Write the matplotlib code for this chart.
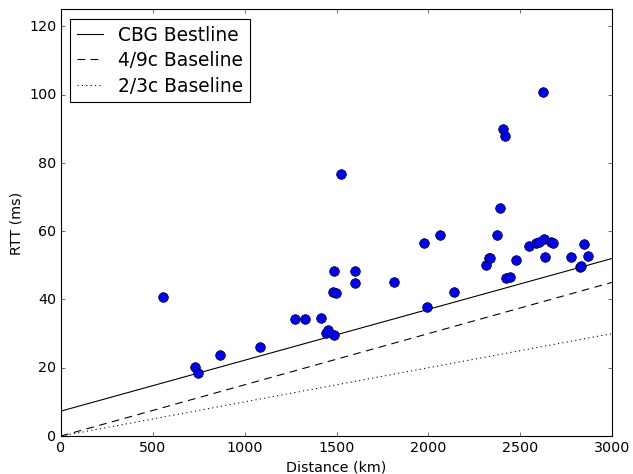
import numpy as np
import matplotlib
matplotlib.use('Agg')
import matplotlib.pyplot as plt

plt.style.use('classic')

# measured points (distance in km, RTT in ms)
distance = [555, 730, 747, 866, 1085, 1274, 1328, 1416, 1444, 1451,
            1489, 1489, 1483, 1495, 1527, 1602, 1602, 1813, 1976, 1991,
            2061, 2138, 2312, 2331, 2336, 2372, 2390, 2408, 2416, 2421,
            2445, 2477, 2548, 2586, 2604, 2624, 2631, 2635, 2666, 2677,
            2775, 2827, 2831, 2846, 2868]
rtt = [40.7, 20.3, 18.4, 23.6, 26.0, 34.3, 34.2, 34.6, 30.1, 31.1,
       29.5, 48.3, 42.1, 41.8, 76.7, 48.3, 44.7, 45.0, 56.4, 37.8,
       59.0, 42.3, 50.0, 52.1, 52.0, 58.9, 66.7, 89.9, 87.9, 46.4,
       46.7, 51.6, 55.8, 56.6, 56.9, 100.8, 57.7, 52.5, 56.7, 56.6,
       52.5, 49.4, 49.8, 56.2, 52.6]

# line end points
line_x = [0, 3000]
cbg_bestline = [7.3, 52.0]
baseline_49c = [0, 45.0]
baseline_23c = [0, 30.0]

fig = plt.figure(figsize=(8, 6), dpi=79.125, facecolor='white')
ax = fig.add_axes([61/633., 1 - 437/475., (612 - 61)/633., (437 - 10)/475.])

ax.plot(line_x, cbg_bestline, '-', color='black', lw=1.0, label='CBG Bestline')
ax.plot(line_x, baseline_49c, '--', color='black', lw=1.0, dashes=(7, 5),
        label='4/9c Baseline')
ax.plot(line_x, baseline_23c, ':', color='black', lw=1.0, label='2/3c Baseline')
ax.plot(distance, rtt, 'o', color='blue', mec='black', mew=0.6, ms=8.8)

ax.set_xlim(0, 3000)
ax.set_ylim(0, 125)
ax.set_xticks(np.arange(0, 3001, 500))
ax.set_yticks(np.arange(0, 121, 20))
ax.set_xlabel('Distance (km)', fontsize=13)
ax.set_ylabel('RTT (ms)', fontsize=13)
ax.tick_params(labelsize=13)

ax.legend(loc='upper left', fontsize=17, handlelength=1.4, numpoints=1,
          labelspacing=0.35, borderpad=0.35)

fig.savefig('out.png', dpi=79.125, facecolor='white')
